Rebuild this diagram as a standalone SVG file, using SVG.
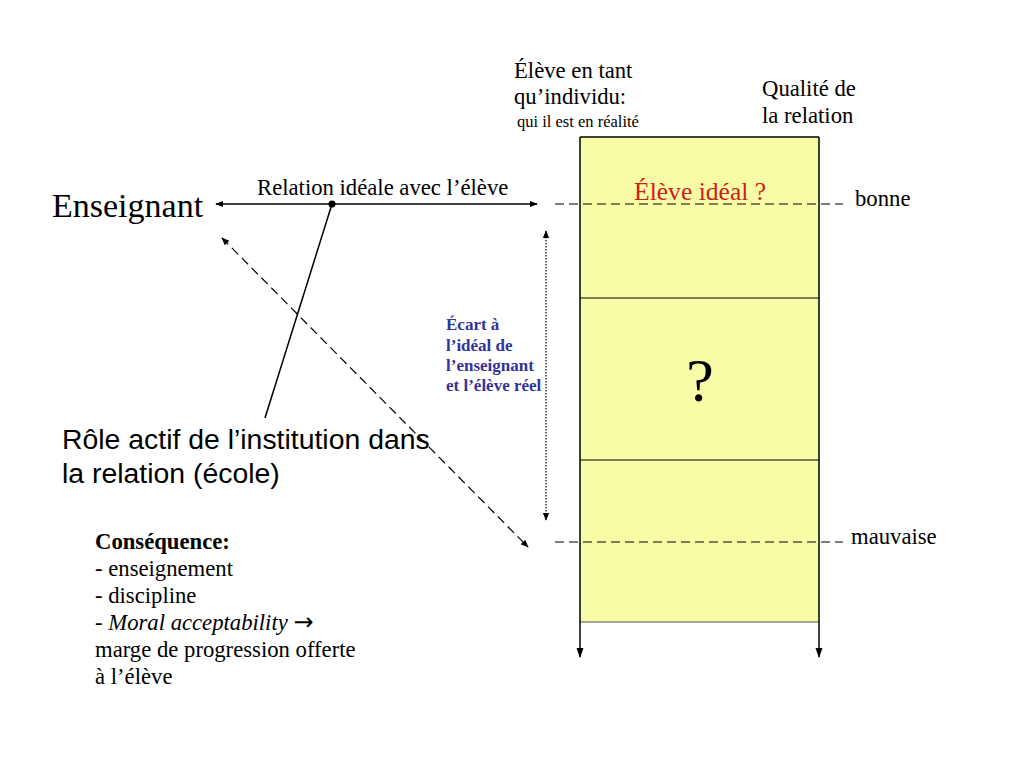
<svg xmlns="http://www.w3.org/2000/svg" width="1024" height="768" viewBox="0 0 1024 768">
<defs>
<style>
.serif{font-family:"Liberation Serif","Times New Roman",serif;fill:#000}
.t16{font-size:22.7px}
.sans{font-family:"Liberation Sans",Arial,sans-serif;fill:#000;font-size:28.4px}
.ln{stroke:#000;stroke-width:1.5;fill:none}
.dash{stroke:#000;stroke-width:1.2;fill:none;stroke-dasharray:9 5}
.dot{stroke:#000;stroke-width:1.2;fill:none;stroke-dasharray:1.5 1.5}
.blue{font-family:"Liberation Serif","Times New Roman",serif;fill:#333399;font-weight:bold;font-size:17px}
</style>
<marker id="ah" viewBox="0 0 10 10" refX="9" refY="5" markerWidth="8" markerHeight="8" orient="auto-start-reverse" markerUnits="userSpaceOnUse">
<path d="M0,1 L10,5 L0,9 z" fill="#000"/>
</marker>
<marker id="ahs" viewBox="0 0 10 10" refX="9" refY="5" markerWidth="12" markerHeight="10" orient="auto-start-reverse" markerUnits="userSpaceOnUse">
<path d="M0,1.5 L10,5 L0,8.5 z" fill="#000"/>
</marker>
</defs>
<rect width="1024" height="768" fill="#fff"/>

<g id="scale">
<rect x="580" y="137" width="239" height="485" fill="#f8fca6"/>
<line x1="580" y1="137" x2="819" y2="137" class="ln"/>
<line x1="580" y1="298" x2="819" y2="298" stroke="#000" stroke-width="1.2"/>
<line x1="580" y1="460" x2="819" y2="460" stroke="#000" stroke-width="1.2"/>
<line x1="580" y1="622" x2="819" y2="622" stroke="#555" stroke-width="1.2"/>
<line x1="580" y1="137" x2="580" y2="657" class="ln" marker-end="url(#ahs)"/>
<line x1="819" y1="137" x2="819" y2="657" class="ln" marker-end="url(#ahs)"/>
<text x="700" y="401" class="serif" font-size="62" text-anchor="middle">?</text>
<text x="634" y="200" font-family="Liberation Serif, serif" font-size="25.6" fill="#cc2020">Élève idéal ?</text>
</g>

<g id="connectors">
<line x1="555" y1="204" x2="843" y2="204" class="dash"/>
<line x1="555" y1="542" x2="843" y2="542" class="dash"/>
<line x1="216" y1="204" x2="537" y2="204" class="ln" marker-start="url(#ah)" marker-end="url(#ah)"/>
<circle cx="332" cy="204" r="3.5" fill="#000"/>
<line x1="332" y1="204" x2="265" y2="418" class="ln"/>
<line x1="222" y1="238" x2="528" y2="547" class="dash" marker-start="url(#ah)" marker-end="url(#ah)"/>
<line x1="546" y1="231" x2="546" y2="520" class="dot" marker-start="url(#ah)" marker-end="url(#ah)"/>
</g>

<g id="eleve-individu">
<text x="514" y="78" class="serif t16">Élève en tant</text>
<text x="514" y="104" class="serif t16">qu’individu:</text>
<text x="517" y="127" class="serif" font-size="16.5">qui il est en réalité</text>
</g>

<g id="qualite">
<text x="762" y="96" class="serif t16">Qualité de</text>
<text x="762" y="123" class="serif t16">la relation</text>
</g>

<g id="bonne"><text x="855" y="206" class="serif t16">bonne</text></g>
<g id="mauvaise"><text x="851" y="544" class="serif t16">mauvaise</text></g>

<g id="enseignant"><text x="52" y="217" class="serif" font-size="34">Enseignant</text></g>
<g id="relation-ideale"><text x="257" y="195" class="serif t16">Relation idéale avec l’élève</text></g>

<g id="ecart">
<text x="446" y="330" class="blue">Écart à</text>
<text x="446" y="351" class="blue">l’idéal de</text>
<text x="446" y="371" class="blue">l’enseignant</text>
<text x="446" y="391" class="blue">et l’élève réel</text>
</g>

<g id="role">
<text x="62" y="449" class="sans">Rôle actif de l’institution dans</text>
<text x="62" y="483" class="sans">la relation (école)</text>
</g>

<g id="consequence">
<text x="95" y="549" class="serif t16" font-weight="bold">Conséquence:</text>
<text x="95" y="576" class="serif t16">- enseignement</text>
<text x="95" y="603" class="serif t16">- discipline</text>
<text x="95" y="630" class="serif t16">- <tspan font-style="italic">Moral acceptability</tspan> <tspan font-family="DejaVu Sans, sans-serif" font-size="24">→</tspan></text>
<text x="95" y="657" class="serif t16">marge de progression offerte</text>
<text x="95" y="684" class="serif t16">à l’élève</text>
</g>
</svg>
